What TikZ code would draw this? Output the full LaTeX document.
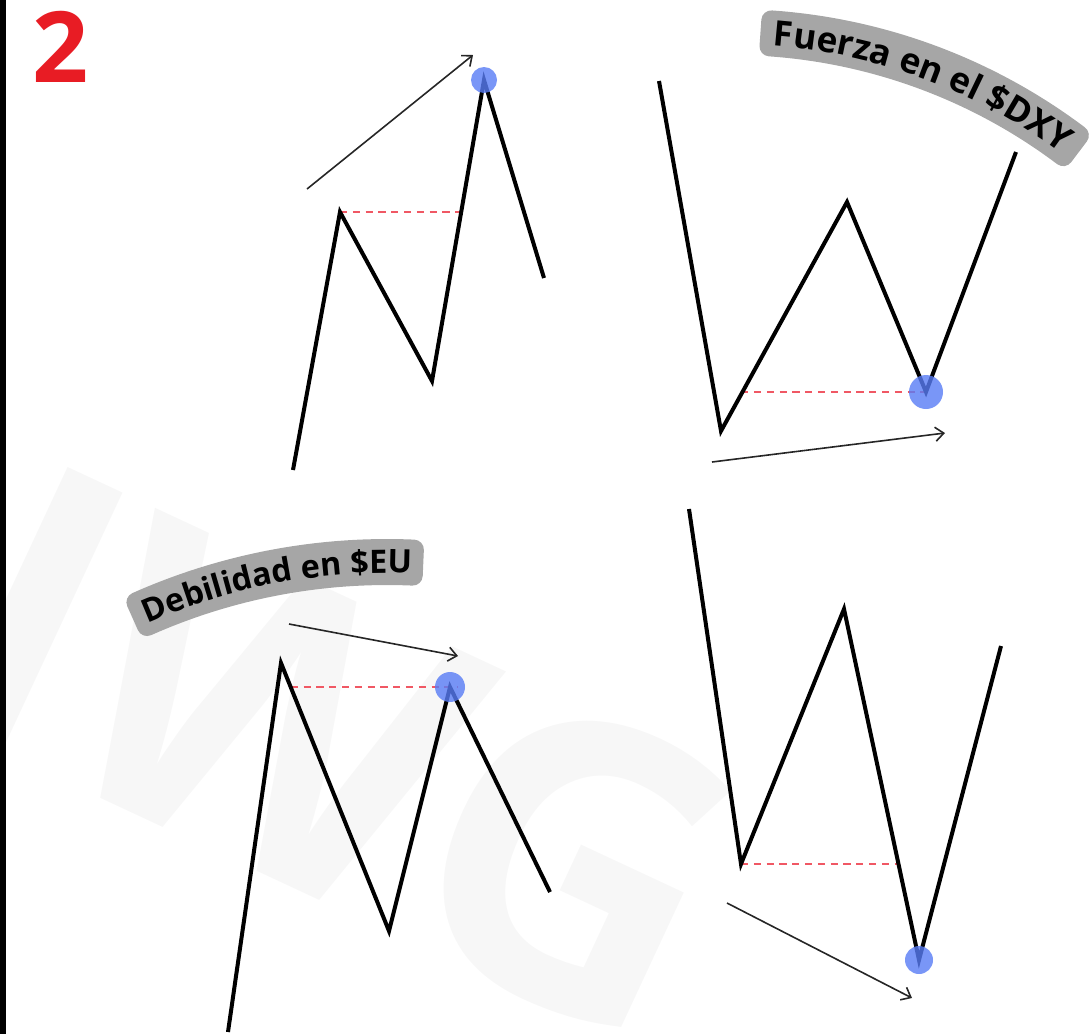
\documentclass[tikz,border=0pt]{standalone}
\usepackage{fontspec}
\newfontfamily\opensans{Open Sans}
\usetikzlibrary{arrows.meta,calc,decorations.text}
\definecolor{numred}{RGB}{232,28,36}
\definecolor{bandgray}{RGB}{166,166,166}
\definecolor{dotblue}{RGB}{88,124,245}
\definecolor{levelred}{RGB}{240,88,100}
\newcommand\bandfont{\opensans\bfseries\fontsize{23}{23}\selectfont}
\newcommand\bigbandfont{\opensans\bfseries\fontsize{25}{25}\selectfont}

\begin{document}
\begin{tikzpicture}[x=0.025cm,y=-0.025cm,>={Straight Barb[length=6pt,width=10pt]},
  price/.style={line width=0.1cm},
  level/.style={levelred,line width=0.05cm,dash pattern=on 0.18cm off 0.14cm},
  trend/.style={->,black!85,line width=0.04cm},
  pivot/.style={dotblue,opacity=.8},
  band/.style={fill=bandgray,draw=bandgray,line width=0.5cm,line join=round}]
\useasboundingbox (0,0) rectangle (1091,1034);
% watermark
\node[black!3,rotate=-25,font=\opensans\bfseries\fontsize{285}{285}\selectfont] (wm) at (340,752) {IWG};
\fill (0,0) rectangle (6,1034);
\node[numred,font=\opensans\bfseries\fontsize{70}{70}\selectfont] (num) at (61,47) {2};

% top left: higher high
\coordinate (a0) at (293,470);
\coordinate (a1) at (340,212);
\coordinate (a2) at (432,381);
\coordinate (a3) at (484,80);
\coordinate (a4) at (544,278);
\coordinate (a23) at ($(a2)!.56!(a3)$);
\coordinate (ta) at (307,189);
\coordinate (ta') at (473,55);
\draw[level] (a1) -- (a1 -| a23);
\draw[price] (a0) -- (a1) -- (a2) -- (a3) -- (a4);
\fill[pivot] (a3) circle (13);
\draw[trend] (ta) -- (ta');

% top right: higher low
\coordinate (b0) at (659,81);
\coordinate (b1) at (721,431);
\coordinate (b2) at (847,202);
\coordinate (b3) at (926,392);
\coordinate (b4) at (1016,152);
\coordinate (b12) at ($(b1)!.16!(b2)$);
\coordinate (tb) at (712,462);
\coordinate (tb') at (945,433);
\draw[level] (b12 |- b3) -- (b3);
\draw[price] (b0) -- (b1) -- (b2) -- (b3) -- (b4);
\fill[pivot] (b3) circle (17);
\draw[trend] (tb) -- (tb');

% bottom left: lower high
\coordinate (c0) at (228,1032);
\coordinate (c1) at (281,663);
\coordinate (c2) at (389,931);
\coordinate (c3) at (450,687);
\coordinate (c4) at (550,892);
\coordinate (c12) at ($(c1)!.09!(c2)$);
\coordinate (tc) at (289,624);
\coordinate (tc') at (458,656);
\draw[level] (c12 |- c3) -- ++(167,0);
\draw[price] (c0) -- (c1) -- (c2) -- (c3) -- (c4);
\fill[pivot] (c3) circle (15);
\draw[trend] (tc) -- (tc');

% bottom right: lower low
\coordinate (d0) at (689,509);
\coordinate (d1) at (741,864);
\coordinate (d2) at (844,609);
\coordinate (d3) at (919,960);
\coordinate (d4) at (1001,646);
\coordinate (d23) at ($(d2)!.74!(d3)$);
\coordinate (td) at (727,903);
\coordinate (td') at (912,998);
\draw[level] (d1) -- (d1 -| d23);
\draw[price] (d0) -- (d1) -- (d2) -- (d3) -- (d4);
\fill[pivot] (d3) circle (14);
\draw[trend] (td) -- (td');

% curved labels
\coordinate (fz) at (731,597);
\coordinate (db) at (387,1165);
\path[band] ($(fz)+(-86:578)$) arc[start angle=-86,end angle=-53,radius=578]
  -- ($(fz)+(-53:552)$) arc[start angle=-53,end angle=-86,radius=552] -- cycle;
\path[decorate,decoration={text along path,text align=center,
  text={|\bigbandfont|Fuerza en el {\$}DXY}}]
  ($(fz)+(-87:553)$) arc[start angle=-87,end angle=-52,radius=553];
\path[band] ($(db)+(-114:616)$) arc[start angle=-114,end angle=-87.5,radius=616]
  -- ($(db)+(-87.5:590)$) arc[start angle=-87.5,end angle=-114,radius=590] -- cycle;
\path[decorate,decoration={text along path,text align=center,
  text={|\bandfont|Debilidad en {\$}EU}}]
  ($(db)+(-115:592)$) arc[start angle=-115,end angle=-86.5,radius=592];
\end{tikzpicture}
\end{document}
